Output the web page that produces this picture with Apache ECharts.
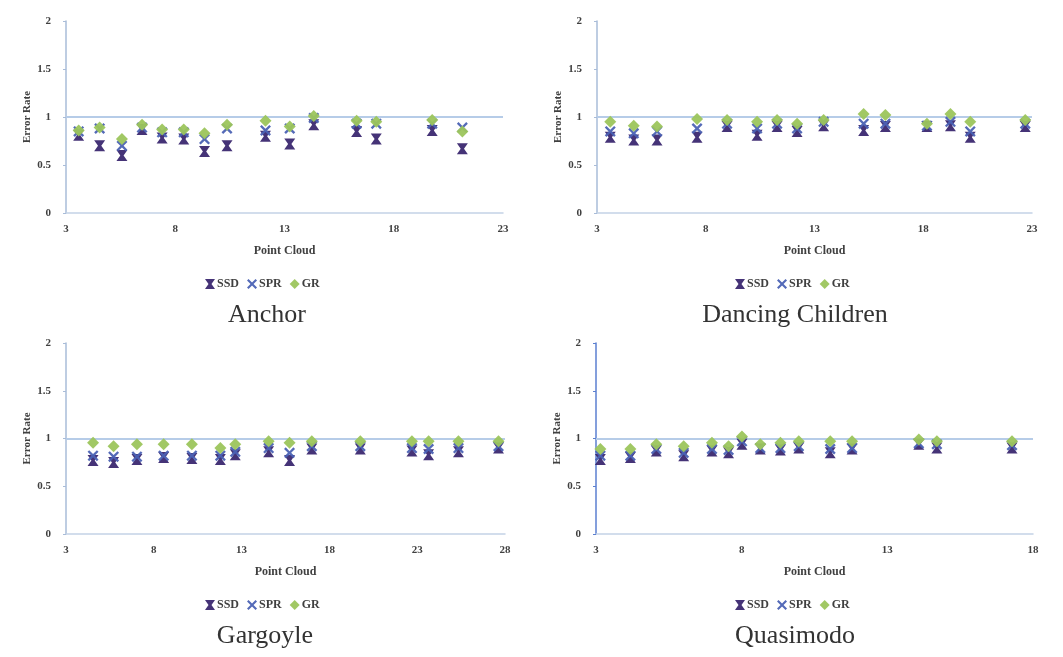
<!DOCTYPE html>
<html>
<head>
<meta charset="utf-8">
<script src="https://cdn.jsdelivr.net/npm/echarts@6/dist/echarts.min.js"></script>
<style>html,body{margin:0;padding:0;background:#fff}#c{width:1063px;height:657px}</style>
</head>
<body>
<div id="c"></div>
<script>
// ---- data ----
const panelTitles = ['Anchor', 'Dancing Children', 'Gargoyle', 'Quasimodo'];
const seriesNames = ['SSD', 'SPR', 'GR'];
const yTicks = [0, 0.5, 1, 1.5, 2];
const xRanges = [[3, 23], [3, 23], [3, 28], [3, 18]];
const refValue = 1;

const anchorX   = [3.58,4.54,5.56,6.48,7.4,8.39,9.34,10.37,12.13,13.24,14.34,16.3,17.2,19.76,21.14];
const anchorSSD = [0.81,0.70,0.60,0.87,0.78,0.77,0.64,0.70,0.80,0.72,0.92,0.85,0.77,0.86,0.67];
const anchorSPR = [0.85,0.88,0.70,0.89,0.84,0.84,0.77,0.88,0.86,0.88,0.99,0.93,0.93,0.93,0.89];
const anchorGR  = [0.86,0.89,0.77,0.92,0.87,0.87,0.83,0.92,0.96,0.90,1.01,0.96,0.95,0.97,0.85];

const dancingX   = [3.61,4.69,5.76,7.6,8.98,10.36,11.28,12.2,13.42,15.26,16.26,18.17,19.25,20.16,22.69];
const dancingSSD = [0.79,0.76,0.76,0.79,0.90,0.81,0.90,0.85,0.91,0.86,0.90,0.90,0.91,0.79,0.90];
const dancingSPR = [0.85,0.83,0.85,0.88,0.93,0.88,0.93,0.88,0.95,0.93,0.93,0.91,0.95,0.85,0.93];
const dancingGR  = [0.95,0.91,0.90,0.98,0.97,0.95,0.97,0.93,0.97,1.03,1.02,0.93,1.03,0.95,0.97];

const gargoyleX   = [4.54,5.71,7.04,8.56,10.17,11.79,12.64,14.54,15.73,17.0,19.76,22.7,23.65,25.35,27.63];
const gargoyleSSD = [0.77,0.75,0.78,0.80,0.79,0.78,0.83,0.86,0.77,0.89,0.89,0.87,0.83,0.86,0.90];
const gargoyleSPR = [0.82,0.81,0.81,0.82,0.82,0.82,0.86,0.90,0.85,0.92,0.92,0.90,0.89,0.90,0.92];
const gargoyleGR  = [0.955,0.92,0.94,0.94,0.94,0.90,0.94,0.97,0.955,0.97,0.97,0.97,0.97,0.97,0.97];

const quasiX   = [3.15,4.18,5.07,6.01,6.98,7.55,8.01,8.64,9.33,9.96,11.04,11.79,14.08,14.7,17.28];
const quasiSSD = [0.78,0.80,0.87,0.82,0.87,0.85,0.94,0.89,0.88,0.90,0.85,0.89,0.94,0.90,0.90];
const quasiSPR = [0.82,0.82,0.89,0.85,0.89,0.88,0.97,0.90,0.90,0.92,0.89,0.90,0.95,0.94,0.93];
const quasiGR  = [0.89,0.89,0.94,0.92,0.955,0.92,1.02,0.94,0.955,0.97,0.97,0.97,0.99,0.97,0.97];

const panelData = [
  [anchorX, anchorSSD, anchorSPR, anchorGR],
  [dancingX, dancingSSD, dancingSPR, dancingGR],
  [gargoyleX, gargoyleSSD, gargoyleSPR, gargoyleGR],
  [quasiX, quasiSSD, quasiSPR, quasiGR]
];

// ---- styles / layout ----
const colors = ['#3b2870', '#4b62b4', '#9cc55c'];
const symbols = [
  'path://M0,0H10L6.5,5L10,10H0L3.5,5Z',
  'path://M0,1.5L1.5,0L5,3.5L8.5,0L10,1.5L6.5,5L10,8.5L8.5,10L5,6.5L1.5,10L0,8.5L3.5,5Z',
  'diamond'
];
const grids = [
  {left: 66, top: 21, width: 437, height: 192},
  {left: 597, top: 21, width: 435, height: 192},
  {left: 66, top: 343, width: 439, height: 191},
  {left: 596, top: 343, width: 437, height: 191}
];
const centers = [262, 790, 260, 790];
const legendLefts = [200, 730, 200, 730];
const yAxisColors = ['#a9bcd8', '#a9bcd8', '#a9bcd8', '#5b7fd0'];
const serif = '"Liberation Serif", "DejaVu Serif", serif';
const txt = '#404040';

const option = {
  backgroundColor: '#fff',
  animation: false,
  grid: grids,
  title: [],
  legend: [],
  xAxis: [],
  yAxis: [],
  series: []
};

panelData.forEach((pd, i) => {
  const g = grids[i];
  option.title.push({
    text: panelTitles[i], left: centers[i], top: g.top + g.height + 84,
    textAlign: 'center',
    textStyle: {fontFamily: serif, fontSize: 26, fontWeight: 'normal', color: '#333'}
  });
  option.legend.push({
    data: seriesNames.map((n, k) => ({name: n, icon: symbols[k]})),
    left: legendLefts[i], top: g.top + g.height + 60,
    itemWidth: 10, itemHeight: 10, itemGap: 8,
    textStyle: {fontFamily: serif, fontSize: 12, fontWeight: 'bold', color: txt, padding: [0, 0, 0, -3]}
  });
  option.xAxis.push({
    type: 'value', gridIndex: i, min: xRanges[i][0], max: xRanges[i][1], interval: 5,
    name: 'Point Cloud', nameLocation: 'middle', nameGap: 32,
    nameTextStyle: {fontFamily: serif, fontSize: 12, fontWeight: 'bold', color: txt},
    axisLine: {lineStyle: {color: '#c3d2e6', width: 1.5}},
    axisTick: {show: false},
    splitLine: {show: false},
    axisLabel: {fontFamily: serif, fontSize: 11, fontWeight: 'bold', color: txt, margin: 11}
  });
  option.yAxis.push({
    type: 'value', gridIndex: i, min: yTicks[0], max: yTicks[yTicks.length - 1], interval: 0.5,
    name: 'Error Rate', nameLocation: 'middle', nameGap: 33,
    nameTextStyle: {fontFamily: serif, fontSize: 11, fontWeight: 'bold', color: txt},
    axisLine: {show: true, lineStyle: {color: yAxisColors[i], width: 1.5}},
    axisTick: {show: true, length: 3, lineStyle: {color: yAxisColors[i]}},
    splitLine: {show: false},
    axisLabel: {fontFamily: serif, fontSize: 11, fontWeight: 'bold', color: txt, margin: 15}
  });
  seriesNames.forEach((name, k) => {
    const s = {
      name: name, type: 'scatter', xAxisIndex: i, yAxisIndex: i,
      symbol: symbols[k], symbolSize: k === 2 ? 12 : 11,
      itemStyle: {color: colors[k], opacity: 0.95},
      data: pd[0].map((x, j) => [x, pd[k + 1][j]]),
      z: 3 + k
    };
    if (k === 0) {
      s.markLine = {
        silent: true, symbol: 'none', label: {show: false},
        lineStyle: {color: '#b6cce8', width: 2, type: 'solid'},
        data: [{yAxis: refValue}], z: 1
      };
    }
    option.series.push(s);
  });
});

const chart = echarts.init(document.getElementById('c'), null, {renderer: 'canvas'});
chart.setOption(option);
</script>
</body>
</html>
